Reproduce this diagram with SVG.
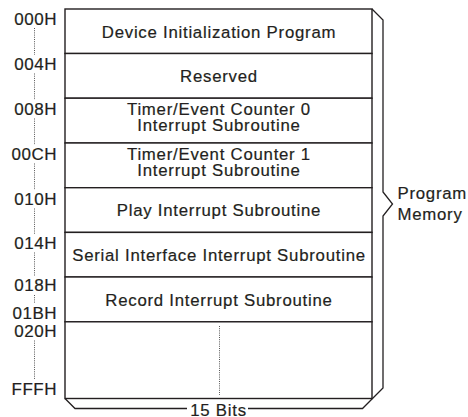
<svg xmlns="http://www.w3.org/2000/svg" width="468" height="417" viewBox="0 0 468 417">
<style>
text{font-family:"Liberation Sans",Arial,sans-serif;fill:#231f20;stroke:#231f20;stroke-width:0.2}
.t{font-size:16.8px;letter-spacing:0.75px;text-anchor:middle}
.a{font-size:17px;letter-spacing:0.5px;text-anchor:end}
.p{font-size:16.8px;letter-spacing:0.75px}
.box{fill:#fff;stroke:#231f20;stroke-width:1.4}
.dot{stroke:#555;stroke-width:1;stroke-dasharray:1 1.2;fill:none}
.br{fill:none;stroke:#231f20;stroke-width:1.3;stroke-linejoin:miter}
</style>
<rect width="468" height="417" fill="#fff"/>
<g id="n-init"><rect class="box" x="65" y="9" width="307" height="44.5"/><text class="t" x="219" y="37.5">Device Initialization Program</text></g>
<g id="n-reserved"><rect class="box" x="65" y="53.5" width="307" height="44.7"/><text class="t" x="219" y="82">Reserved</text></g>
<g id="n-tec0"><rect class="box" x="65" y="98.2" width="307" height="44.8"/><text class="t" x="219" y="115">Timer/Event Counter 0</text><text class="t" x="219" y="131">Interrupt Subroutine</text></g>
<g id="n-tec1"><rect class="box" x="65" y="143" width="307" height="44.7"/><text class="t" x="219" y="159.8">Timer/Event Counter 1</text><text class="t" x="219" y="175.8">Interrupt Subroutine</text></g>
<g id="n-play"><rect class="box" x="65" y="187.7" width="307" height="44.7"/><text class="t" x="219" y="216.2">Play Interrupt Subroutine</text></g>
<g id="n-serial"><rect class="box" x="65" y="232.4" width="307" height="44.6"/><text class="t" x="219" y="261">Serial Interface Interrupt Subroutine</text></g>
<g id="n-record"><rect class="box" x="65" y="277" width="307" height="44.8"/><text class="t" x="219" y="305.5">Record Interrupt Subroutine</text></g>
<g id="n-free"><rect class="box" x="65" y="321.8" width="307" height="76.7"/><line class="dot" x1="219.5" y1="326" x2="219.5" y2="395"/></g>
<g id="addresses">
<text class="a" x="57" y="24.5">000H</text>
<text class="a" x="57" y="70">004H</text>
<text class="a" x="57" y="114.8">008H</text>
<text class="a" x="57" y="159.7">00CH</text>
<text class="a" x="57" y="204.5">010H</text>
<text class="a" x="57" y="249">014H</text>
<text class="a" x="57" y="290.7">018H</text>
<text class="a" x="57" y="319.3">01BH</text>
<text class="a" x="57" y="336.5">020H</text>
<text class="a" x="57" y="395">FFFH</text>
<g class="dot-lines">
<line class="dot" x1="34.5" y1="28" x2="34.5" y2="55"/>
<line class="dot" x1="34.5" y1="73.5" x2="34.5" y2="100"/>
<line class="dot" x1="34.5" y1="118.5" x2="34.5" y2="145"/>
<line class="dot" x1="34.5" y1="163.5" x2="34.5" y2="190"/>
<line class="dot" x1="34.5" y1="208.5" x2="34.5" y2="234.5"/>
<line class="dot" x1="34.5" y1="252.5" x2="34.5" y2="276"/>
<line class="dot" x1="34.5" y1="295" x2="34.5" y2="303"/>
<line class="dot" x1="34.5" y1="340.5" x2="34.5" y2="379"/>
</g>
</g>
<g id="connectors">
<path class="br" d="M372,9 L383,20 L383,192 L392.5,204 L383,216 L383,388 L362.5,408.5 L248,408.5"/>
<path class="br" d="M65,398.5 L75,408.5 L187,408.5"/>
</g>
<g id="labels">
<text class="p" x="397.5" y="199">Program</text>
<text class="p" x="397.5" y="220">Memory</text>
<text class="t" x="218.5" y="416">15 Bits</text>
</g>
</svg>
